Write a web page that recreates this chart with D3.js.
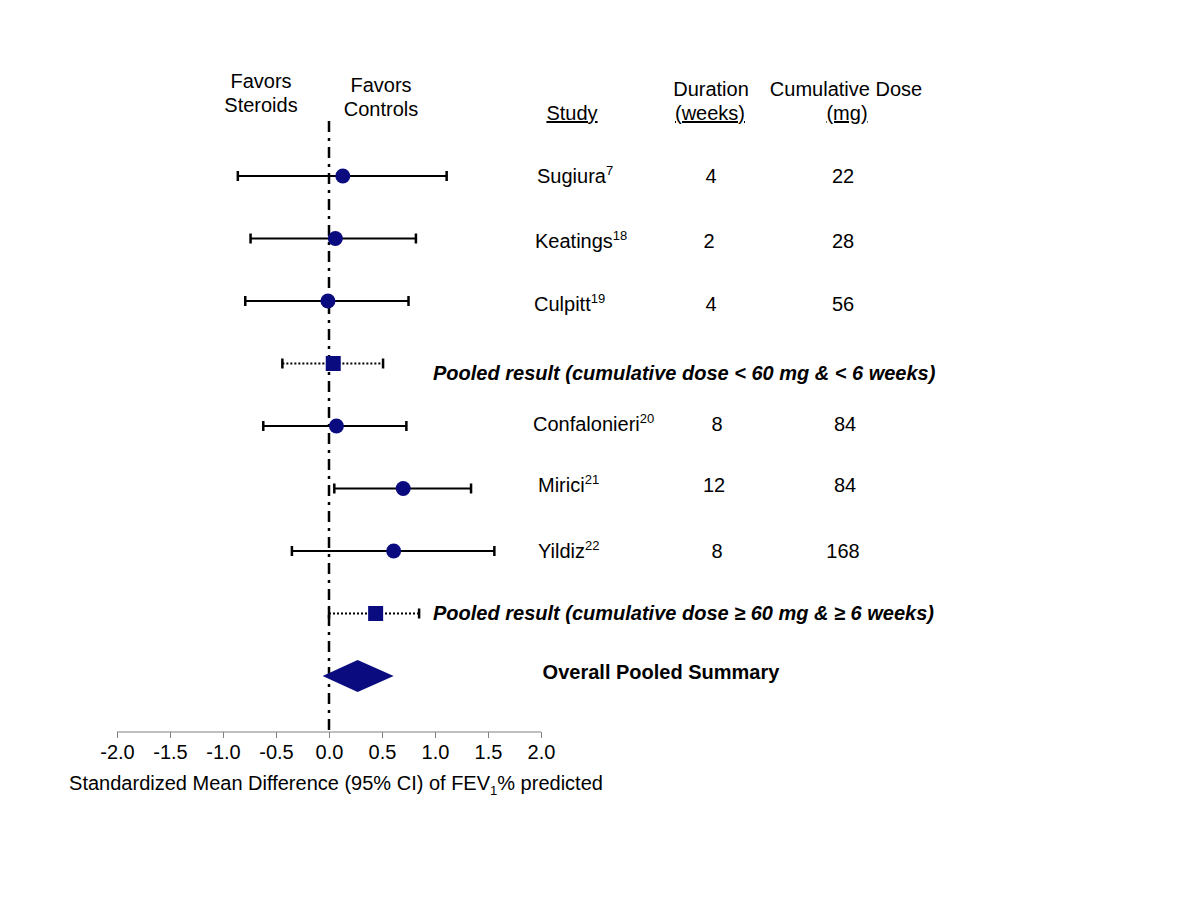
<!DOCTYPE html>
<html><head><meta charset="utf-8">
<script src="https://cdn.jsdelivr.net/npm/d3@7"></script>
<style>body{margin:0;background:#fff}svg{display:block;font-family:"Liberation Sans",Arial,sans-serif}</style>
</head><body><svg id="c" width="1200" height="900"></svg>
<script>
const studies = ["Sugiura","Keatings","Culpitt","Confalonieri","Mirici","Yildiz"];
const refs = ["7","18","19","20","21","22"];
const smd = [0.13, 0.06, -0.01, 0.07, 0.70, 0.61];
const lower = [-0.86, -0.74, -0.79, -0.62, 0.05, -0.35];
const upper = [1.11, 0.82, 0.75, 0.73, 1.34, 1.56];
const duration = ["4","2","4","8","12","8"];
const dose = ["22","28","56","84","84","168"];
const studyRow = [0,1,2,4,5,6];
const pooledLabels = ["Pooled result (cumulative dose < 60 mg & < 6 weeks)","Pooled result (cumulative dose \u2265 60 mg & \u2265 6 weeks)"];
const pooledSmd = [0.04, 0.44];
const pooledLower = [-0.44, 0.00];
const pooledUpper = [0.51, 0.85];
const pooledRow = [3,7];
const overall = {label:"Overall Pooled Summary", est:0.27, lo:-0.06, hi:0.61, row:8};
const xTicks = [-2.0,-1.5,-1.0,-0.5,0.0,0.5,1.0,1.5,2.0];

const svg = d3.select("#c");
const navy = "#0b0b80";
const x = d3.scaleLinear().domain([-2,2]).range([117,541]);
const y = d3.scalePoint().domain(d3.range(9)).range([176,676]);
const fs = 20, sup = 13;
// text baseline offsets per row (layout)
const textDy = [7, 9, 10, 16, 5, 3, 7, 6, 3];

// axis
const ax = svg.append("g").attr("transform","translate(0,732)")
  .call(d3.axisBottom(x).tickValues(xTicks).tickFormat(d=>d.toFixed(1)).tickSize(6).tickPadding(7));
ax.select(".domain").attr("stroke","#808080").attr("d","M117,0H541");
ax.selectAll(".tick line").attr("stroke","#808080");
ax.selectAll(".tick text").attr("font-size",fs).attr("fill","#000").attr("font-family","Liberation Sans, Arial");

// reference line
svg.append("line").attr("x1",x(0)).attr("x2",x(0)).attr("y1",121).attr("y2",736)
  .attr("stroke","#000").attr("stroke-width",2.5).attr("stroke-dasharray","11,6,3,6");

// axis title
const t = svg.append("text").attr("x",336).attr("y",790).attr("text-anchor","middle").attr("font-size",fs);
t.append("tspan").text("Standardized Mean Difference (95% CI) of FEV");
t.append("tspan").text("1").attr("font-size",sup).attr("dy",5);
t.append("tspan").text("% predicted").attr("dy",-5);

// favors
const fav = [{l:["Favors","Steroids"],cx:261,y0:88},{l:["Favors","Controls"],cx:381,y0:92}];
fav.forEach(f=>f.l.forEach((s,i)=>svg.append("text").attr("x",f.cx).attr("y",f.y0+i*24).attr("text-anchor","middle").attr("font-size",fs).text(s)));

// headers
svg.append("text").attr("x",572).attr("y",120).attr("text-anchor","middle").attr("font-size",fs).attr("text-decoration","underline").text("Study");
svg.append("text").attr("x",711).attr("y",96).attr("text-anchor","middle").attr("font-size",fs).text("Duration");
svg.append("text").attr("x",710).attr("y",120).attr("text-anchor","middle").attr("font-size",fs).attr("text-decoration","underline").text("(weeks)");
svg.append("text").attr("x",846).attr("y",96).attr("text-anchor","middle").attr("font-size",fs).text("Cumulative Dose");
svg.append("text").attr("x",847).attr("y",120).attr("text-anchor","middle").attr("font-size",fs).attr("text-decoration","underline").text("(mg)");

// study whiskers
const capH = 5;
studies.forEach((s,i)=>{
  const r = studyRow[i], yy = y(r), ty = yy + textDy[r];
  const g = svg.append("g");
  g.append("line").attr("x1",x(lower[i])).attr("x2",x(upper[i])).attr("y1",yy).attr("y2",yy).attr("stroke","#000").attr("stroke-width",2);
  [lower[i],upper[i]].forEach(v=>g.append("line").attr("x1",x(v)).attr("x2",x(v)).attr("y1",yy-capH).attr("y2",yy+capH).attr("stroke","#000").attr("stroke-width",2.5));
  g.append("circle").attr("cx",x(smd[i])).attr("cy",yy).attr("r",7.5).attr("fill",navy);
  const tx = svg.append("text").attr("x",[537,535,534,533,538,538][i]).attr("y",ty).attr("font-size",fs);
  tx.append("tspan").text(s);
  tx.append("tspan").text(refs[i]).attr("font-size",sup).attr("dy",-8);
  svg.append("text").attr("x",[711,709,711,717,714,717][i]).attr("y",ty).attr("text-anchor","middle").attr("font-size",fs).text(duration[i]);
  svg.append("text").attr("x",[843,843,843,845,845,843][i]).attr("y",ty).attr("text-anchor","middle").attr("font-size",fs).text(dose[i]);
});

// pooled
pooledLabels.forEach((lab,i)=>{
  const r = pooledRow[i], yy = y(r);
  svg.append("line").attr("x1",x(pooledLower[i])).attr("x2",x(pooledUpper[i])).attr("y1",yy).attr("y2",yy).attr("stroke","#000").attr("stroke-width",2).attr("stroke-dasharray","2,2");
  [pooledLower[i],pooledUpper[i]].forEach(v=>svg.append("line").attr("x1",x(v)).attr("x2",x(v)).attr("y1",yy-capH).attr("y2",yy+capH).attr("stroke","#000").attr("stroke-width",2.5));
  svg.append("rect").attr("x",x(pooledSmd[i])-7.5).attr("y",yy-7.5).attr("width",15).attr("height",15).attr("fill",navy);
  svg.append("text").attr("x",433).attr("y",yy+textDy[r]).attr("font-size",fs).attr("font-weight","bold").attr("font-style","italic").text(lab);
});

// overall diamond
const oy = y(overall.row);
svg.append("path").attr("d",`M${x(overall.lo)},${oy}L${x(overall.est)},${oy-16}L${x(overall.hi)},${oy}L${x(overall.est)},${oy+16}Z`).attr("fill",navy);
svg.append("text").attr("x",661).attr("y",oy+textDy[overall.row]).attr("text-anchor","middle").attr("font-size",fs).attr("font-weight","bold").text(overall.label);
</script></body></html>
